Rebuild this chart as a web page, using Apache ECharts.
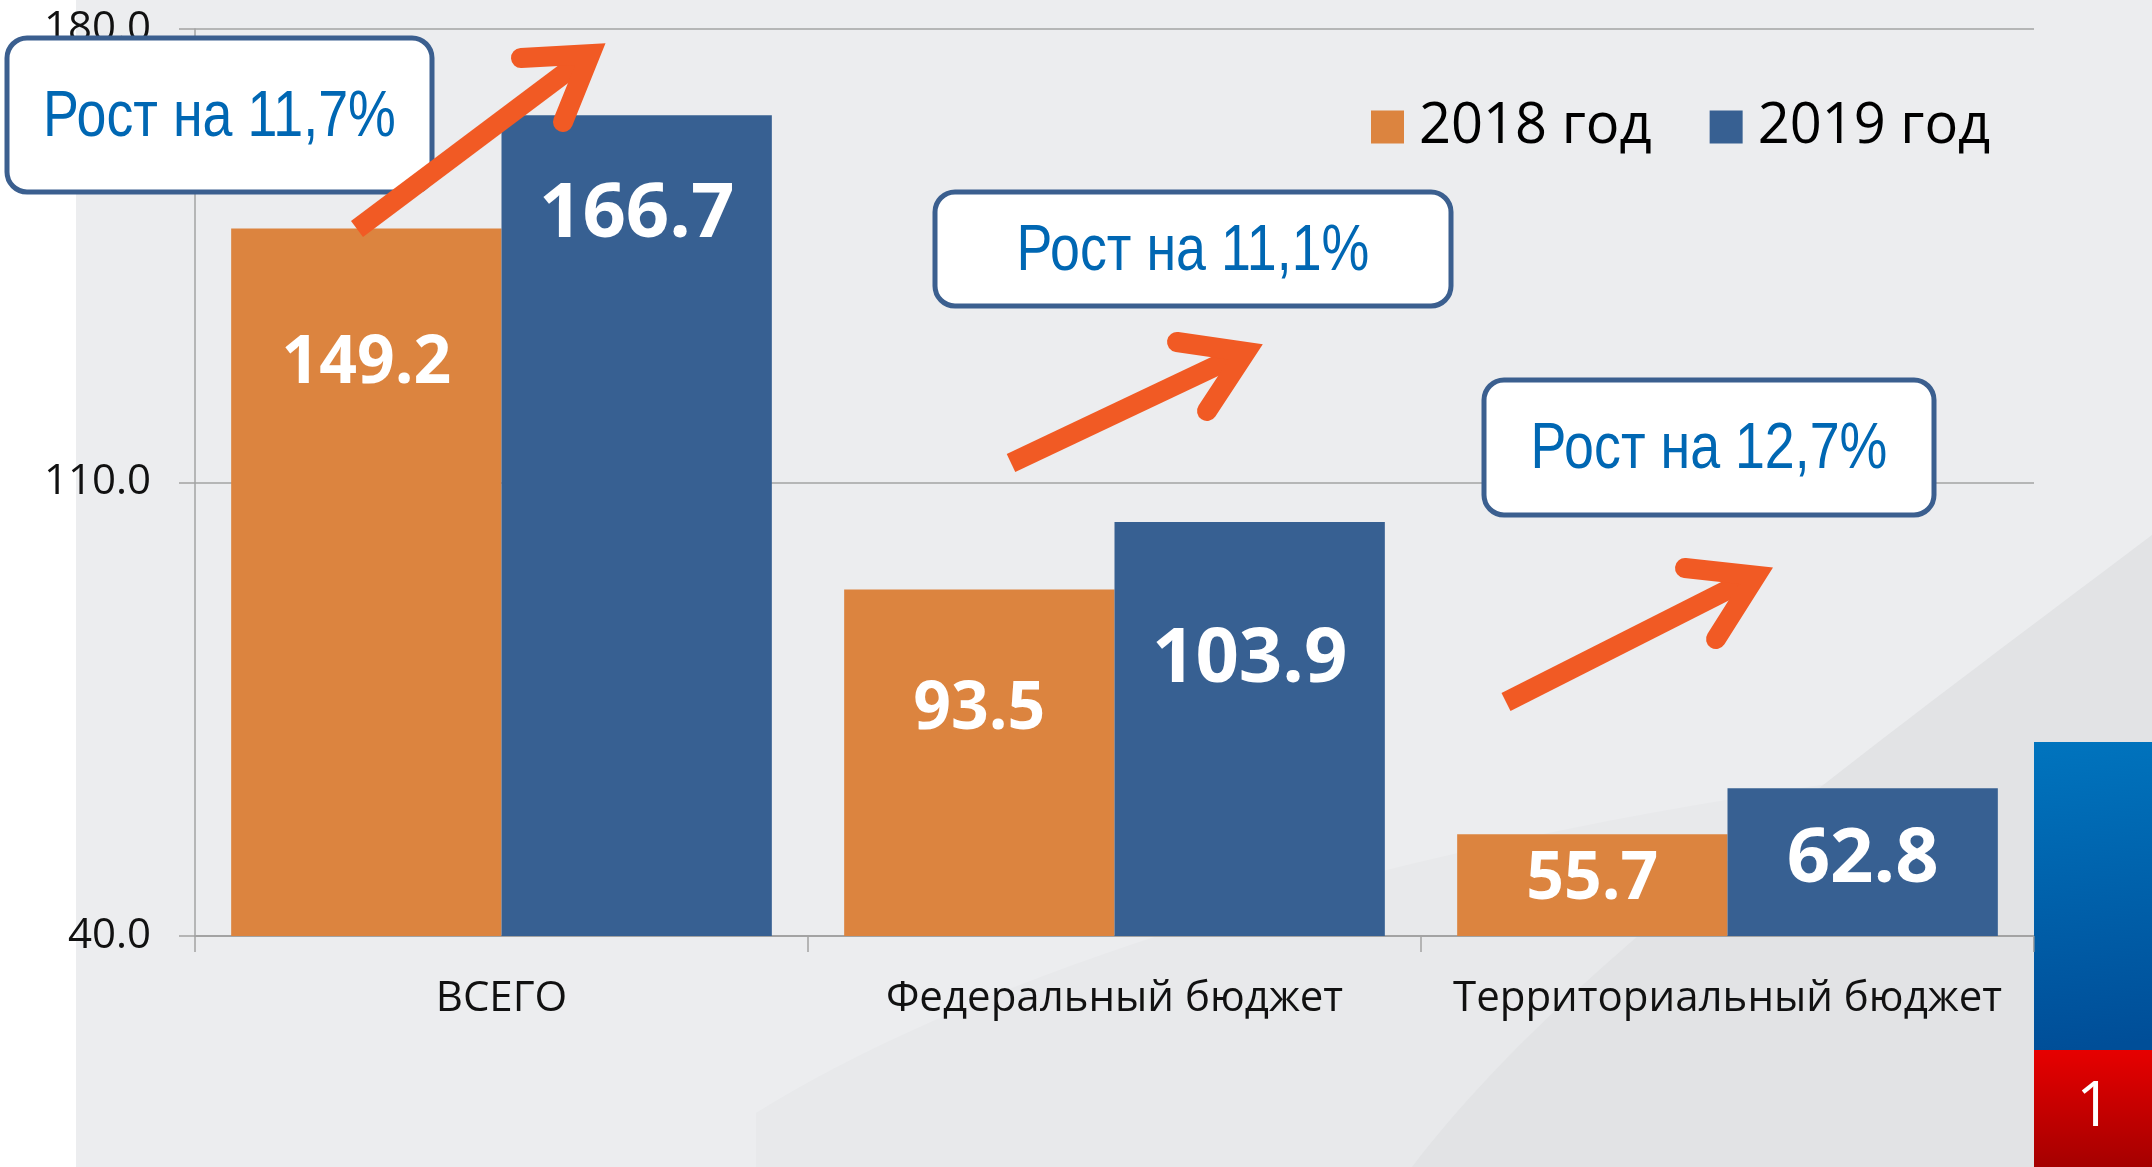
<!DOCTYPE html>
<html>
<head>
<meta charset="utf-8">
<script src="https://cdn.jsdelivr.net/npm/echarts@6/dist/echarts.min.js"></script>
<style>
  html, body { margin: 0; padding: 0; background: #fff; }
  #chart { width: 2152px; height: 1167px; }
</style>
</head>
<body>
<div id="chart"></div>
<script>
// data
const categories = ["ВСЕГО", "Федеральный бюджет", "Территориальный бюджет"];
const seriesNames = ["2018 год", "2019 год"];
const values2018 = [149.2, 93.5, 55.7];
const values2019 = [166.7, 103.9, 62.8];
const yTicks = [40, 110, 180];
const growthLabels = ["Рост на 11,7%", "Рост на 11,1%", "Рост на 12,7%"];
const pageNumber = "1";

// layout (pixels)
const labelDy2018 = [136, 121, 46];
const labelDy2019 = [100, 138, 72];
const callouts = [
  { x: 7, y: 38, w: 425, h: 154 },
  { x: 935, y: 192, w: 516, h: 114 },
  { x: 1484, y: 380, w: 450, h: 135 },
];
const arrows = [
  { tail: [357, 229], tip: [610, 40], a1: [521, 58], a2: [563, 122] },
  { tail: [1011, 463], tip: [1268, 342], a1: [1177, 342], a2: [1207, 411] },
  { tail: [1506, 702], tip: [1778, 565], a1: [1685, 568], a2: [1716, 639] },
];

const ORANGE = "#dc843f";
const BLUE = "#376092";
const ARROW = "#f15a24";
const AXIS = "#a3a3a3";

// cubic bezier sampled to points, for the background swooshes
function bez(p0, p1, p2, p3, n) {
  const pts = [];
  for (let k = 0; k <= n; k++) {
    const t = k / n, m = 1 - t;
    pts.push([
      m * m * m * p0[0] + 3 * m * m * t * p1[0] + 3 * m * t * t * p2[0] + t * t * t * p3[0],
      m * m * m * p0[1] + 3 * m * m * t * p1[1] + 3 * m * t * t * p2[1] + t * t * t * p3[1],
    ]);
  }
  return pts;
}

function arrowGraphics(a) {
  const lw = 20;
  const u = (p) => {
    const dx = p[0] - a.tip[0], dy = p[1] - a.tip[1];
    const l = Math.hypot(dx, dy);
    return [dx / l, dy / l];
  };
  const u1 = u(a.a1), u2 = u(a.a2);
  let bx = u1[0] + u2[0], by = u1[1] + u2[1];
  const bl = Math.hypot(bx, by);
  bx /= bl; by /= bl;
  const half = Math.acos(u1[0] * u2[0] + u1[1] * u2[1]) / 2;
  const back = lw / 2 / Math.sin(half);
  const v = [a.tip[0] + bx * back, a.tip[1] + by * back];
  return [
    {
      type: "polyline", z: 60,
      shape: { points: [a.tail, [v[0] + bx * 10, v[1] + by * 10]] },
      style: { stroke: ARROW, lineWidth: lw, lineCap: "butt", fill: null },
    },
    {
      type: "polyline", z: 61,
      shape: { points: [a.a1, v, a.a2] },
      style: { stroke: ARROW, lineWidth: lw, lineCap: "round", lineJoin: "miter", miterLimit: 10, fill: null },
    },
  ];
}

const background = [
  { type: "rect", z: -10, shape: { x: 76, y: 0, width: 2076, height: 1167 }, style: { fill: "#ecedef" } },
  {
    type: "polygon", z: -9,
    shape: { points: [[756, 1167], ...bez([756, 1113], [1000, 960], [1500, 800], [2152, 748], 40), [2152, 1167]] },
    style: { fill: "#e8e9eb" },
  },
  {
    type: "polygon", z: -8,
    shape: { points: [...bez([1412, 1167], [1550, 985], [1800, 800], [2152, 535], 40), [2152, 1167]] },
    style: { fill: "#e2e3e5" },
  },
];

const flag = [
  {
    type: "rect", z: 40,
    shape: { x: 2034, y: 742, width: 118, height: 308 },
    style: {
      fill: {
        type: "linear", x: 0, y: 0, x2: 0.3, y2: 1,
        colorStops: [{ offset: 0, color: "#0074be" }, { offset: 1, color: "#004e98" }],
      },
    },
  },
  {
    type: "rect", z: 40,
    shape: { x: 2034, y: 1050, width: 118, height: 117 },
    style: {
      fill: {
        type: "linear", x: 0, y: 0, x2: 0, y2: 1,
        colorStops: [{ offset: 0, color: "#e60000" }, { offset: 1, color: "#a50000" }],
      },
    },
  },
  {
    type: "text", z: 41,
    x: 2094, y: 1108,
    style: {
      text: pageNumber, fill: "#fff", fontSize: 62, fontFamily: "Open Sans",
      textAlign: "center", textVerticalAlign: "middle",
    },
  },
  // tick of the category axis at its right end, on top of the flag edge
  { type: "rect", z: 42, shape: { x: 2033, y: 936, width: 1.5, height: 16 }, style: { fill: AXIS } },
];

const calloutGraphics = callouts.flatMap((c, i) => [
  {
    type: "rect", z: 55,
    shape: { x: c.x, y: c.y, width: c.w, height: c.h, r: 20 },
    style: { fill: "#fff", stroke: "#3b5f8f", lineWidth: 5 },
  },
  {
    type: "text", z: 56,
    x: c.x + c.w / 2, y: c.y + c.h / 2 + 3,
    scaleX: 0.84,
    style: {
      text: growthLabels[i],
      fill: "#0067b3",
      fontSize: 64,
      fontFamily: "'Liberation Sans Narrow', 'Arial Narrow', 'Liberation Sans', sans-serif",
      textAlign: "center", textVerticalAlign: "middle",
    },
  },
]);

const chart = echarts.init(document.getElementById("chart"));

chart.setOption({
  animation: false,
  backgroundColor: "#ffffff",
  grid: { left: 195, right: 118, top: 29, bottom: 231, outerBoundsMode: "none" },
  legend: {
    data: seriesNames,
    left: 1366,
    top: 90,
    icon: "rect",
    itemWidth: 33,
    itemHeight: 33,
    itemGap: 58,
    textStyle: { fontSize: 56, fontFamily: "Open Sans", color: "#000", padding: [0, 0, 0, 10], lineHeight: 64 },
  },
  xAxis: {
    type: "category",
    data: categories,
    axisLine: { lineStyle: { color: AXIS, width: 2 } },
    axisTick: { show: true, length: 16, lineStyle: { color: AXIS, width: 1.5 } },
    axisLabel: { interval: 0, margin: 42, fontSize: 42, fontFamily: "Open Sans", color: "#111" },
  },
  yAxis: {
    type: "value",
    min: yTicks[0],
    max: yTicks[yTicks.length - 1],
    interval: yTicks[1] - yTicks[0],
    axisLine: { show: true, lineStyle: { color: AXIS, width: 1.5 } },
    axisTick: { show: true, length: 16, lineStyle: { color: AXIS, width: 1.5 } },
    splitLine: { lineStyle: { color: AXIS, width: 1.5 } },
    axisLabel: {
      margin: 44, fontSize: 42, fontFamily: "Open Sans", color: "#111",
      formatter: (v) => v.toFixed(1),
    },
  },
  series: [
    {
      name: seriesNames[0],
      type: "bar",
      barGap: "0%",
      barCategoryGap: "11.8%",
      itemStyle: { color: ORANGE },
      data: values2018.map((v, i) => ({ value: v, label: { position: ["50%", labelDy2018[i]] } })),
      label: {
        show: true, color: "#fff", fontWeight: "bold", fontSize: 66, fontFamily: "Open Sans",
        align: "center", verticalAlign: "middle",
        formatter: (p) => p.value.toFixed(1),
      },
    },
    {
      name: seriesNames[1],
      type: "bar",
      barGap: "0%",
      barCategoryGap: "11.8%",
      itemStyle: { color: BLUE },
      data: values2019.map((v, i) => ({ value: v, label: { position: ["50%", labelDy2019[i]] } })),
      label: {
        show: true, color: "#fff", fontWeight: "bold", fontSize: 76, fontFamily: "Open Sans",
        align: "center", verticalAlign: "middle",
        formatter: (p) => p.value.toFixed(1),
      },
    },
  ],
  graphic: {
    elements: [
      ...background,
      ...flag,
      ...calloutGraphics,
      ...arrows.flatMap(arrowGraphics),
    ],
  },
});
</script>
</body>
</html>
